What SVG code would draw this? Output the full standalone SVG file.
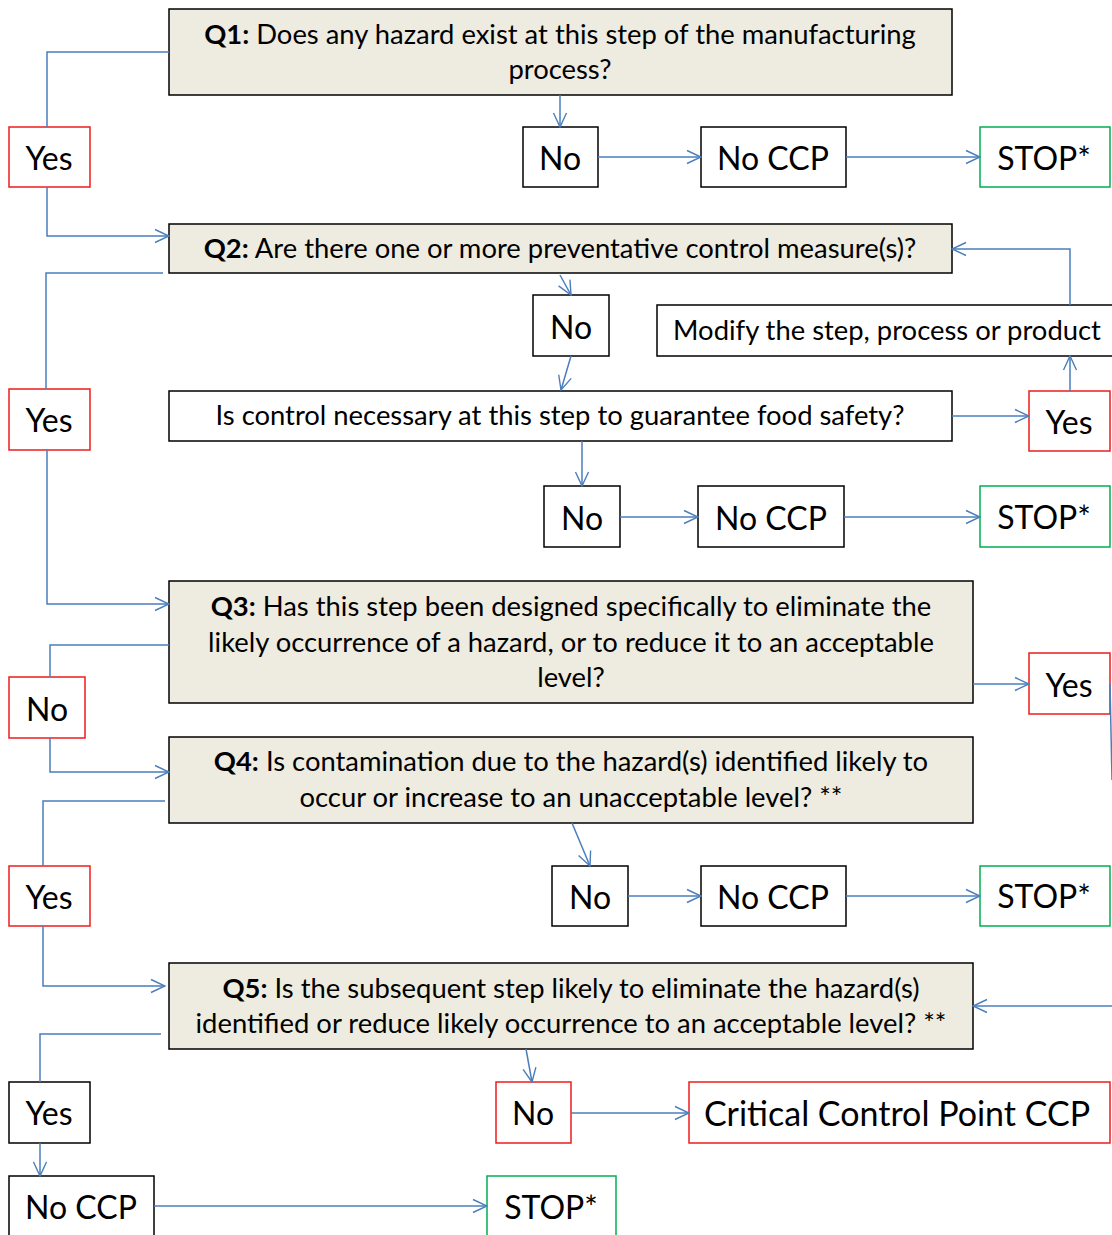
<svg xmlns="http://www.w3.org/2000/svg" width="1112" height="1235" viewBox="0 0 1112 1235">
<defs>
<marker id="arr" viewBox="0 0 16 16" refX="15" refY="8" markerWidth="16" markerHeight="16" markerUnits="userSpaceOnUse" orient="auto">
<path d="M1,1.5 L15,8 L1,14.5" fill="none" stroke="#4a7ebb" stroke-width="1.4"/>
</marker>
<style>
.q{fill:#eeece1;stroke:#000;stroke-width:1.5}
.w{fill:#fff;stroke:#000;stroke-width:1.5}
.r{fill:#fff;stroke:#ee1c1c;stroke-width:1.5}
.g{fill:#fff;stroke:#00b050;stroke-width:1.5}
.t{font-family:Lato,"Liberation Sans",sans-serif;font-size:27.4px;fill:#000;text-anchor:middle}
.b{font-family:Lato,"Liberation Sans",sans-serif;font-size:32px;fill:#000;text-anchor:middle}
.bold{font-weight:bold}
.c path,.c line,.c polyline{fill:none;stroke:#4a7ebb;stroke-width:1.5}
</style>
</defs>
<rect width="1112" height="1235" fill="#fff"/>

<g id="q1"><rect class="q" x="169" y="9" width="783" height="86"/>
<text class="t" x="560" y="44"><tspan class="bold">Q1:</tspan> Does any hazard exist at this step of the manufacturing</text>
<text class="t" x="560" y="79">process?</text></g>
<g id="yes1"><rect class="r" x="9" y="127" width="81" height="60"/><text class="b" x="49" y="170">Yes</text></g>
<g id="no1"><rect class="w" x="523" y="127" width="75" height="60"/><text class="b" x="560" y="170">No</text></g>
<g id="noccp1"><rect class="w" x="701" y="127" width="145" height="60"/><text class="b" x="773" y="170">No CCP</text></g>
<g id="stop1"><rect class="g" x="980" y="127" width="130" height="60"/><text class="b" x="1044" y="170">STOP*</text></g>

<g id="q2"><rect class="q" x="169" y="224" width="783" height="49"/>
<text class="t" x="560" y="258"><tspan class="bold">Q2:</tspan> Are there one or more preventative control measure(s)?</text></g>
<g id="yes2"><rect class="r" x="9" y="389" width="81" height="61"/><text class="b" x="49" y="432">Yes</text></g>
<g id="no2"><rect class="w" x="533" y="295" width="76" height="61"/><text class="b" x="571" y="339">No</text></g>
<g id="modify"><rect class="w" x="657" y="305" width="460" height="51"/><text class="t" x="887" y="340">Modify the step, process or product</text></g>
<g id="control"><rect class="w" x="169" y="391" width="783" height="50"/><text class="t" x="560" y="425">Is control necessary at this step to guarantee food safety?</text></g>
<g id="yes3"><rect class="r" x="1029" y="391" width="81" height="60"/><text class="b" x="1069" y="434">Yes</text></g>
<g id="no3"><rect class="w" x="544" y="486" width="76" height="61"/><text class="b" x="582" y="530">No</text></g>
<g id="noccp3"><rect class="w" x="698" y="486" width="146" height="61"/><text class="b" x="771" y="530">No CCP</text></g>
<g id="stop3"><rect class="g" x="980" y="486" width="130" height="61"/><text class="b" x="1044" y="529">STOP*</text></g>

<g id="q3"><rect class="q" x="169" y="581" width="804" height="122"/>
<text class="t" x="571" y="616"><tspan class="bold">Q3:</tspan> Has this step been designed specifically to eliminate the</text>
<text class="t" x="571" y="652">likely occurrence of a hazard, or to reduce it to an acceptable</text>
<text class="t" x="571" y="687">level?</text></g>
<g id="no4"><rect class="r" x="9" y="677" width="76" height="61"/><text class="b" x="47" y="721">No</text></g>
<g id="yes4"><rect class="r" x="1029" y="653" width="81" height="61"/><text class="b" x="1069" y="697">Yes</text></g>

<g id="q4"><rect class="q" x="169" y="737" width="804" height="86"/>
<text class="t" x="571" y="771"><tspan class="bold">Q4:</tspan> Is contamination due to the hazard(s) identified likely to</text>
<text class="t" x="571" y="807">occur or increase to an unacceptable level? **</text></g>
<g id="yes5"><rect class="r" x="9" y="866" width="81" height="60"/><text class="b" x="49" y="909">Yes</text></g>
<g id="no5"><rect class="w" x="552" y="866" width="76" height="60"/><text class="b" x="590" y="909">No</text></g>
<g id="noccp5"><rect class="w" x="701" y="866" width="145" height="60"/><text class="b" x="773" y="909">No CCP</text></g>
<g id="stop5"><rect class="g" x="980" y="866" width="130" height="60"/><text class="b" x="1044" y="908">STOP*</text></g>

<g id="q5"><rect class="q" x="169" y="963" width="804" height="86"/>
<text class="t" x="571" y="998"><tspan class="bold">Q5:</tspan> Is the subsequent step likely to eliminate the hazard(s)</text>
<text class="t" x="571" y="1033">identified or reduce likely occurrence to an acceptable level? **</text></g>
<g id="yes6"><rect class="w" x="9" y="1082" width="81" height="61"/><text class="b" x="49" y="1125">Yes</text></g>
<g id="no7"><rect class="r" x="496" y="1082" width="75" height="61"/><text class="b" x="533" y="1125">No</text></g>
<g id="ccp"><rect class="r" x="689" y="1082" width="421" height="61"/><text class="b" x="897" y="1126" style="font-size:34px">Critical Control Point CCP</text></g>
<g id="noccp6"><rect class="w" x="9" y="1176" width="145" height="70"/><text class="b" x="81" y="1219">No CCP</text></g>
<g id="stop6"><rect class="g" x="487" y="1176" width="129" height="70"/><text class="b" x="551" y="1219">STOP*</text></g>

<g id="connectors" class="c">
<polyline points="169,52 47,52 47,127"/>
<polyline points="47,187 47,236 169,236" marker-end="url(#arr)"/>
<line x1="560" y1="95" x2="560" y2="127" marker-end="url(#arr)"/>
<line x1="598" y1="157" x2="701" y2="157" marker-end="url(#arr)"/>
<line x1="846" y1="157" x2="980" y2="157" marker-end="url(#arr)"/>
<polyline points="163,273 46,273 46,389"/>
<polyline points="47,450 47,604 169,604" marker-end="url(#arr)"/>
<line x1="560" y1="275" x2="571" y2="295" marker-end="url(#arr)"/>
<line x1="571" y1="356" x2="561" y2="390" marker-end="url(#arr)"/>
<line x1="952" y1="416" x2="1029" y2="416" marker-end="url(#arr)"/>
<line x1="1070" y1="391" x2="1070" y2="356" marker-end="url(#arr)"/>
<polyline points="1070,305 1070,249 952,249" marker-end="url(#arr)"/>
<line x1="582" y1="441" x2="582" y2="486" marker-end="url(#arr)"/>
<line x1="620" y1="517" x2="698" y2="517" marker-end="url(#arr)"/>
<line x1="844" y1="517" x2="980" y2="517" marker-end="url(#arr)"/>
<polyline points="169,645 50,645 50,677"/>
<polyline points="50,738 50,772 169,772" marker-end="url(#arr)"/>
<line x1="973" y1="684" x2="1029" y2="684" marker-end="url(#arr)"/>
<line x1="1110" y1="684" x2="1112" y2="780"/>
<polyline points="165,801 43,801 43,866"/>
<polyline points="43,926 43,986 165,986" marker-end="url(#arr)"/>
<line x1="572" y1="823" x2="590" y2="866" marker-end="url(#arr)"/>
<line x1="628" y1="896" x2="701" y2="896" marker-end="url(#arr)"/>
<line x1="846" y1="896" x2="980" y2="896" marker-end="url(#arr)"/>
<line x1="1112" y1="1006" x2="973" y2="1006" marker-end="url(#arr)"/>
<polyline points="161,1034 40,1034 40,1082"/>
<line x1="40" y1="1143" x2="40" y2="1176" marker-end="url(#arr)"/>
<line x1="154" y1="1206" x2="487" y2="1206" marker-end="url(#arr)"/>
<line x1="526" y1="1049" x2="532" y2="1082" marker-end="url(#arr)"/>
<line x1="571" y1="1113" x2="689" y2="1113" marker-end="url(#arr)"/>
</g>
</svg>
